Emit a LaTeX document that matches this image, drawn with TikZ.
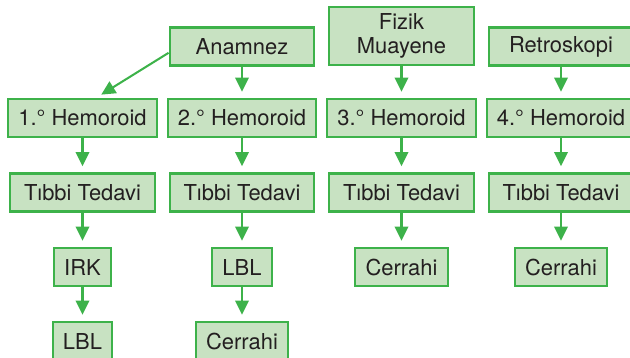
\documentclass[tikz,border=0pt]{standalone}
\usepackage{fontspec}
\setmainfont{TeX Gyre Heros}
\usetikzlibrary{arrows.meta}
\definecolor{kutuyesil}{RGB}{200,226,194}
\definecolor{cizgiyesil}{RGB}{61,178,74}
\definecolor{yazi}{RGB}{35,31,32}

\tikzset{
	kutu/.style={draw=cizgiyesil, fill=kutuyesil, line width=1.45pt, text=yazi,
		minimum height=0.95cm, inner xsep=7.3pt, inner ysep=2pt, align=center,
		font=\fontsize{15.6}{17.5}\selectfont},
	genis/.style={kutu, minimum width=3.62cm},
	ok/.style={->, draw=cizgiyesil, line width=1.45pt, shorten >=4.5pt},
}

\begin{document}
\begin{tikzpicture}[x=0.025cm, y=-0.025cm, >={Triangle[length=10pt, width=9.6pt]}]
				\useasboundingbox (0,0) rectangle (630,357);
				\def\ka{82.5}
				\def\kb{242}
				\def\kc{401.5}
				\def\kd{561}
				\node[genis] (anam)  at (\kb,46.5) {Anamnez};
				\node[genis, minimum height=1.45cm] (fizik) at (\kc,36) {Fizik\\Muayene};
				\node[genis] (retro) at (\kd,46.5) {Retroskopi};
				\node[genis] (h1) at (\ka,118) {1.° Hemoroid};
				\node[genis] (h2) at (\kb,118) {2.° Hemoroid};
				\node[genis] (h3) at (\kc,118) {3.° Hemoroid};
				\node[genis] (h4) at (\kd,118) {4.° Hemoroid};
				\node[genis] (t1) at (\ka,192.5) {Tıbbi Tedavi};
				\node[genis] (t2) at (\kb,192.5) {Tıbbi Tedavi};
				\node[genis] (t3) at (\kc,192.5) {Tıbbi Tedavi};
				\node[genis] (t4) at (\kd,192.5) {Tıbbi Tedavi};
				\node[kutu] (irk)   at (\ka,267) {IRK};
				\node[kutu] (lbla)  at (\kb,267) {LBL};
				\node[kutu] (cer3)  at (\kc,267) {Cerrahi};
				\node[kutu] (cer4)  at (\kd,267) {Cerrahi};
				\node[kutu] (lblb)  at (\ka,341) {LBL};
				\node[kutu] (cer2)  at (\kb,341) {Cerrahi};
				\draw[ok] ([yshift=-4.5]anam.west) -- ([xshift=9.5]h1.north);
				\foreach \a/\b in {anam/h2, fizik/h3, retro/h4, h1/t1, h2/t2, h3/t3, h4/t4,
						t1/irk, irk/lblb, t2/lbla, lbla/cer2, t3/cer3, t4/cer4}
					\draw[ok] (\a.south) -- (\b.north);
		\end{tikzpicture}
\end{document}
